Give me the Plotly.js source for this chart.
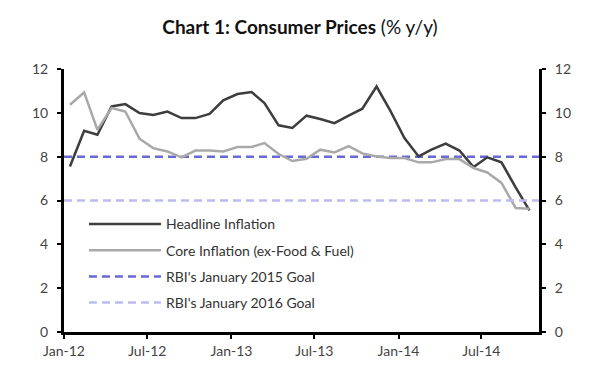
<!DOCTYPE html>
<html>
<head>
<meta charset="utf-8">
<script src="https://cdn.plot.ly/plotly-3.0.1.min.js"></script>
<style>html,body{margin:0;padding:0;background:#fff;}#chart{width:600px;height:375px;}</style>
</head>
<body>
<div id="chart"></div>
<script>
// Monthly observations (plotted mid-month)
const months = [
  '2012-01-14','2012-02-14','2012-03-14','2012-04-14','2012-05-14','2012-06-14',
  '2012-07-14','2012-08-14','2012-09-14','2012-10-14','2012-11-14','2012-12-14',
  '2013-01-14','2013-02-14','2013-03-14','2013-04-14','2013-05-14','2013-06-14',
  '2013-07-14','2013-08-14','2013-09-14','2013-10-14','2013-11-14','2013-12-14',
  '2014-01-14','2014-02-14','2014-03-14','2014-04-14','2014-05-14','2014-06-14',
  '2014-07-14','2014-08-14','2014-09-14','2014-10-14'
];
const headline = [
  7.55, 9.18, 9.00, 10.29, 10.40, 9.99,
  9.90, 10.06, 9.76, 9.76, 9.95, 10.57,
  10.86, 10.95, 10.45, 9.43, 9.31, 9.87,
  9.72, 9.53, 9.87, 10.19, 11.20, 10.10,
  8.85, 8.01, 8.32, 8.60, 8.28, 7.53,
  7.97, 7.74, 6.60, 5.55
];
const core = [
  10.37, 10.93, 9.23, 10.22, 10.06, 8.82,
  8.39, 8.24, 7.97, 8.28, 8.28, 8.24,
  8.44, 8.44, 8.62, 8.12, 7.80, 7.90,
  8.32, 8.19, 8.48, 8.15, 8.01, 7.94,
  7.94, 7.74, 7.74, 7.89, 7.89, 7.48,
  7.28, 6.80, 5.66, 5.62
];
// Goal lines span the whole horizontal axis
const goalSpan = ['2012-01-01', '2014-11-04'];
const goal2015 = [8, 8];
const goal2016 = [6, 6];
const seriesNames = [
  'Headline Inflation',
  'Core Inflation (ex-Food & Fuel)',
  "RBI's January 2015 Goal",
  "RBI's January 2016 Goal"
];
const yTicks = [0, 2, 4, 6, 8, 10, 12];
const xTicks = ['2012-01-01','2012-07-01','2013-01-01','2013-07-01','2014-01-01','2014-07-01'];
const xTickText = ['Jan-12','Jul-12','Jan-13','Jul-13','Jan-14','Jul-14'];

const FONT = 'Lato, "Open Sans", sans-serif';

const traces = [
  {x: months, y: headline, name: seriesNames[0], type: 'scatter', mode: 'lines',
   line: {color: '#3d3d3d', width: 2.5}, legendgroup: 'a'},
  {x: months, y: core, name: seriesNames[1], type: 'scatter', mode: 'lines',
   line: {color: '#a9a9a9', width: 2.5}, legendgroup: 'b'},
  {x: goalSpan, y: goal2015, name: seriesNames[2], type: 'scatter', mode: 'lines',
   line: {color: '#6868d6', width: 2.5, dash: '8px,5px'}, legendgroup: 'c'},
  {x: goalSpan, y: goal2016, name: seriesNames[3], type: 'scatter', mode: 'lines', yaxis: 'y2',
   line: {color: '#bcbcef', width: 2.5, dash: '8px,5px'}, legendgroup: 'd'}
];
// draw order: goal lines behind the data
const ordered = [traces[2], traces[3], traces[0], traces[1]];

const axisCommon = {
  range: [0, 12], tickvals: yTicks, ticks: 'outside', ticklen: 4, tickwidth: 2,
  tickcolor: '#000', showline: true, linecolor: '#000', linewidth: 3,
  showgrid: false, zeroline: false, fixedrange: true, ticklabelstandoff: 6,
  tickfont: {family: FONT, size: 14, color: '#444'}
};

const layout = {
  width: 600, height: 375,
  margin: {l: 64, r: 61, t: 69, b: 43},
  paper_bgcolor: '#fff', plot_bgcolor: '#fff',
  title: {
    text: '<b>Chart 1: Consumer Prices</b> (% y/y)',
    font: {family: FONT, size: 19, color: '#111'},
    x: 0.5, xanchor: 'center', y: 0.928, yanchor: 'middle'
  },
  xaxis: {
    type: 'date', range: goalSpan, tickvals: xTicks, ticktext: xTickText,
    ticks: 'outside', ticklen: 4, tickwidth: 2, tickcolor: '#000',
    showline: true, linecolor: '#000', linewidth: 3, showgrid: false, zeroline: false,
    tickfont: {family: FONT, size: 14, color: '#444'}, fixedrange: true
  },
  yaxis: Object.assign({}, axisCommon, {side: 'left'}),
  yaxis2: Object.assign({}, axisCommon, {side: 'right', overlaying: 'y'}),
  showlegend: true,
  legend: {
    x: 0.042, y: 0.47, xanchor: 'left', yanchor: 'top',
    bgcolor: 'rgba(0,0,0,0)', font: {family: FONT, size: 14, color: '#333'},
    traceorder: 'grouped', tracegroupgap: 5, itemwidth: 72
  }
};

const legendOrder = ['a', 'b', 'c', 'd'];
ordered.forEach(t => { t.legendrank = legendOrder.indexOf(t.legendgroup) + 1; });

Plotly.newPlot('chart', ordered, layout, {displayModeBar: false, staticPlot: true});
</script>
</body>
</html>
